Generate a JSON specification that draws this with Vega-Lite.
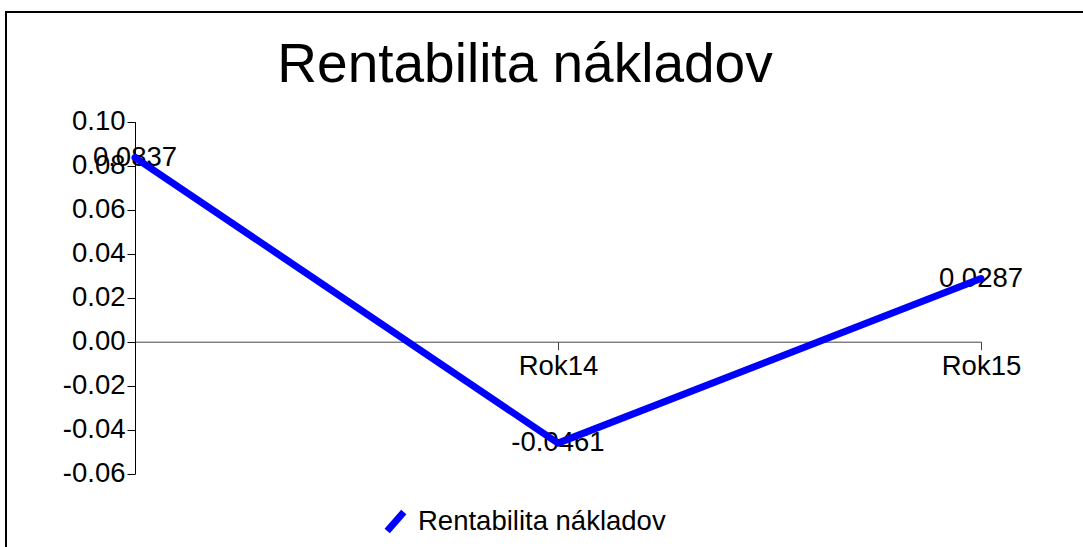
{
  "$schema": "https://vega.github.io/schema/vega-lite/v6.json",
  "width": 1100,
  "height": 560,
  "autosize": {"type": "none"},
  "padding": {"left": 6, "top": 12, "right": 0, "bottom": 0},
  "background": "white",
  "config": {
    "view": {"stroke": "#000000", "strokeWidth": 2},
    "font": "Liberation Sans",
    "locale": {
      "number": {"decimal": ".", "thousands": ",", "grouping": [3], "currency": ["$", ""], "minus": "-"}
    }
  },
  "title": {
    "text": "Rentabilita nákladov",
    "fontSize": 55,
    "fontWeight": "normal",
    "font": "Liberation Sans",
    "color": "#000000",
    "anchor": "middle",
    "frame": "group",
    "baseline": "alphabetic",
    "offset": -68,
    "dx": -31,
    "dy": 57
  },
  "data": {
    "values": [
      {"rok": "Rok13", "hodnota": 0.0837, "seria": "Rentabilita nákladov"},
      {"rok": "Rok14", "hodnota": -0.0461, "seria": "Rentabilita nákladov"},
      {"rok": "Rok15", "hodnota": 0.0287, "seria": "Rentabilita nákladov"}
    ]
  },
  "encoding": {
    "x": {
      "field": "rok",
      "type": "ordinal",
      "sort": null,
      "scale": {"type": "point", "range": [129, 975], "padding": 0},
      "axis": {
        "orient": "bottom",
        "offset": -230.3,
        "values": ["Rok14", "Rok15"],
        "title": null,
        "grid": false,
        "labelAngle": 0,
        "labelFontSize": 27.5,
        "labelFont": "Liberation Sans",
        "labelColor": "#000000",
        "domainColor": "#444444",
        "tickColor": "#444444",
        "domainWidth": 1,
        "tickWidth": 1,
        "tickSize": 8,
        "labelPadding": 3
      }
    },
    "y": {
      "field": "hodnota",
      "type": "quantitative",
      "scale": {"domain": [-0.06, 0.1], "range": [461.7, 109.7], "nice": false, "zero": false},
      "axis": {
        "orient": "left",
        "offset": -129,
        "values": [-0.06, -0.04, -0.02, 0, 0.02, 0.04, 0.06, 0.08, 0.1],
        "format": ".2f",
        "title": null,
        "grid": false,
        "labelFontSize": 27.5,
        "labelFont": "Liberation Sans",
        "labelColor": "#000000",
        "domainColor": "#000000",
        "tickColor": "#000000",
        "domainWidth": 1,
        "tickWidth": 1,
        "tickSize": 8,
        "labelPadding": 2
      }
    }
  },
  "layer": [
    {
      "mark": {"type": "text", "fontSize": 27.5, "align": "center", "baseline": "middle", "color": "#000000", "font": "Liberation Sans"},
      "encoding": {
        "text": {"field": "hodnota", "type": "quantitative", "format": ".4f"}
      }
    },
    {
      "mark": {"type": "line", "strokeWidth": 7, "strokeCap": "round", "strokeJoin": "round"},
      "encoding": {
        "color": {
          "field": "seria",
          "type": "nominal",
          "scale": {"range": ["#0000ff"]},
          "legend": {
            "orient": "none",
            "legendX": 373,
            "legendY": 493,
            "padding": 0,
            "title": null,
            "symbolType": "M-0.65,0.75L0.65,-0.75",
            "symbolSize": 650,
            "symbolStrokeWidth": 7,
            "labelFontSize": 27.5,
            "labelFont": "Liberation Sans",
            "labelColor": "#000000",
            "labelOffset": 6,
            "labelLimit": 0
          }
        }
      }
    }
  ]
}
